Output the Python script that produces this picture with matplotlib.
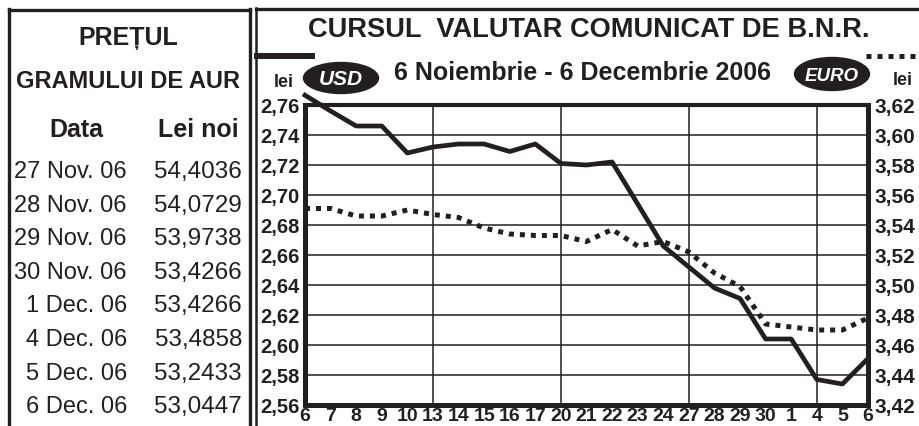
#plot.py - cursul valutar BNR si pretul aurului

import matplotlib.pyplot as plt
import numpy as np
from matplotlib.lines import Line2D
from matplotlib.patches import Ellipse

plt.rcParams['font.family'] = ['Liberation Sans', 'DejaVu Sans']

# Date

zile = ['6', '7', '8', '9', '10', '13', '14', '15', '16', '17', '20', '21',
        '22', '23', '24', '27', '28', '29', '30', '1', '4', '5', '6']
curs_usd = [2.7665, 2.756, 2.746, 2.746, 2.728, 2.732, 2.734, 2.734, 2.729,
            2.734, 2.721, 2.720, 2.722, 2.694, 2.666, 2.652, 2.638, 2.631,
            2.604, 2.604, 2.577, 2.574, 2.591]
curs_eur = [3.551, 3.551, 3.546, 3.546, 3.550, 3.547, 3.545, 3.538, 3.534,
            3.533, 3.533, 3.529, 3.537, 3.526, 3.529, 3.522, 3.508, 3.499,
            3.474, 3.472, 3.470, 3.470, 3.478]
luni = ['13', '20', '27', '4']   # inceput de saptamana -> linie verticala

aur_data = ['27 Nov. 06', '28 Nov. 06', '29 Nov. 06', '30 Nov. 06',
            '1 Dec. 06', '4 Dec. 06', '5 Dec. 06', '6 Dec. 06']
aur_lei = [54.4036, 54.0729, 53.9738, 53.4266, 53.4266, 53.4858, 53.2433, 53.0447]

NEGRU = '#231f20'
W, H = 920, 426


def fx(x):
    return x / W


def fy(y):
    return 1 - y / H


def virgula(v, n):
    return f'{v:.{n}f}'.replace('.', ',')


fig = plt.figure(figsize=(W / 100, H / 100), dpi=100)
fig.patch.set_facecolor('white')

# Grafic

ax = fig.add_axes([fx(305), fy(405), fx(868) - fx(305), fy(105) - fy(405)])
x = np.arange(len(zile))
ax.plot(x, curs_usd, color=NEGRU, lw=3.4, clip_on=False, zorder=4)
ax.set_xlim(0, len(zile) - 1)
ax.set_ylim(2.56, 2.76)
ticks_usd = np.arange(2.56, 2.7601, 0.02)
ax.set_yticks(ticks_usd, [virgula(v, 2) for v in ticks_usd],
              fontsize=14.5, fontweight='bold', color=NEGRU)
ax.set_xticks(x, zile, fontsize=14, fontweight='bold', color=NEGRU)
ax.tick_params(length=0)
ax.tick_params(axis='y', pad=4)
ax.tick_params(axis='x', pad=2.5)
ax.grid(axis='y', color=NEGRU, lw=1.1)
for i, z in enumerate(zile):
    if z in luni:
        ax.axvline(i, color=NEGRU, lw=1.1, zorder=1)
for s in ax.spines.values():
    s.set_linewidth(3.6)
    s.set_color(NEGRU)
ax.spines['top'].set_linewidth(3.0)

ax2 = ax.twinx()
ax2.plot(x, curs_eur, color=NEGRU, lw=3.6, linestyle=(0, (1, 1.2)), zorder=3)
ax2.set_ylim(3.42, 3.62)
ticks_eur = np.arange(3.42, 3.6201, 0.02)
ax2.set_yticks(ticks_eur, [virgula(v, 2) for v in ticks_eur],
               fontsize=15, fontweight='bold', color=NEGRU)
ax2.tick_params(length=0, pad=5)
for s in ax2.spines.values():
    s.set_visible(False)

# Chenare

for xs, ys, lw in [([8.5, 8.5], [9, 430], 2.4),
                   ([8.5, 250], [10, 10], 2.4),
                   ([250, 250], [9, 430], 2.4),
                   ([256.5, 256.5], [8, 430], 1.8),
                   ([256.5, 920], [9, 9], 2.4)]:
    fig.add_artist(Line2D([fx(v) for v in xs], [fy(v) for v in ys], lw=lw, color=NEGRU))

# Titlu si legenda

fig.text(fx(589), fy(37), 'CURSUL  VALUTAR COMUNICAT DE B.N.R.', fontsize=19.6,
         fontweight='bold', color=NEGRU, ha='center', va='baseline')
fig.text(fx(583), fy(80), '6 Noiembrie - 6 Decembrie 2006', fontsize=18,
         fontweight='bold', color=NEGRU, ha='center', va='baseline')

fig.add_artist(Line2D([fx(257), fx(312)], [fy(56), fy(56)], lw=4.3, color=NEGRU))
fig.add_artist(Line2D([fx(866), fx(920)], [fy(56), fy(56)], lw=3.6, color=NEGRU,
                      linestyle=(0, (1, 1.2))))

fig.add_artist(Ellipse((fx(341), fy(78)), 75 / W, 31 / H, color=NEGRU))
fig.add_artist(Ellipse((fx(832), fy(74)), 75 / W, 33 / H, color=NEGRU))
fig.text(fx(341), fy(85), 'USD', fontsize=15, fontweight='bold', style='italic',
         color='white', ha='center', va='baseline')
fig.text(fx(832), fy(81), 'EURO', fontsize=13.5, fontweight='bold', style='italic',
         color='white', ha='center', va='baseline')
fig.text(fx(284), fy(87), 'lei', fontsize=13, fontweight='bold', color=NEGRU,
         ha='center', va='baseline')
fig.text(fx(903), fy(85), 'lei', fontsize=13, fontweight='bold', color=NEGRU,
         ha='center', va='baseline')

# Tabel aur

fig.text(fx(128), fy(45), 'PREȚUL', fontsize=18, fontweight='bold', color=NEGRU,
         ha='center', va='baseline')
fig.text(fx(128.5), fy(88), 'GRAMULUI DE AUR', fontsize=17, fontweight='bold',
         color=NEGRU, ha='center', va='baseline')
fig.text(fx(76), fy(137), 'Data', fontsize=18, fontweight='bold', color=NEGRU,
         ha='center', va='baseline')
fig.text(fx(198), fy(137), 'Lei noi', fontsize=18, fontweight='bold', color=NEGRU,
         ha='center', va='baseline')
for i, (d, v) in enumerate(zip(aur_data, aur_lei)):
    yb = 178 + i * 33.6
    fig.text(fx(127), fy(yb), d, fontsize=17, color=NEGRU, ha='right', va='baseline')
    fig.text(fx(242), fy(yb), virgula(v, 4), fontsize=17.5, color=NEGRU,
             ha='right', va='baseline')

fig.savefig('out.png', dpi=100, facecolor='white')
